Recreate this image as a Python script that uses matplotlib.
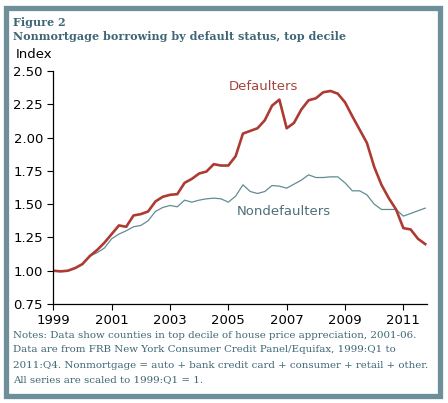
import numpy as np
import matplotlib
matplotlib.use('Agg')
import matplotlib.pyplot as plt
from matplotlib.patches import Rectangle

# quarterly, 1999:Q1 .. 2011:Q4, scaled to 1999:Q1 = 1
quarters = 1999 + np.arange(52) / 4.0
defaulters = [1.00, 0.995, 1.00, 1.02, 1.05, 1.11, 1.155, 1.21, 1.275, 1.34,
              1.33, 1.415, 1.425, 1.445, 1.52, 1.555, 1.57, 1.575, 1.66, 1.69,
              1.73, 1.745, 1.80, 1.79, 1.79, 1.86, 2.03, 2.05, 2.07, 2.13,
              2.24, 2.285, 2.07, 2.11, 2.21, 2.28, 2.295, 2.34, 2.35, 2.33,
              2.265, 2.16, 2.06, 1.96, 1.78, 1.645, 1.545, 1.46, 1.32, 1.31,
              1.24, 1.20]
nondefaulters = [1.00, 0.995, 1.00, 1.02, 1.05, 1.11, 1.135, 1.17, 1.24, 1.275,
                 1.30, 1.33, 1.34, 1.375, 1.445, 1.475, 1.49, 1.48, 1.53, 1.515,
                 1.53, 1.54, 1.545, 1.54, 1.515, 1.56, 1.645, 1.595, 1.58, 1.595,
                 1.64, 1.635, 1.62, 1.65, 1.68, 1.72, 1.70, 1.70, 1.705, 1.705,
                 1.66, 1.60, 1.60, 1.57, 1.50, 1.46, 1.46, 1.46, 1.41, 1.43,
                 1.45, 1.47]
xticks = [1999, 2001, 2003, 2005, 2007, 2009, 2011]
yticks = [0.75, 1.00, 1.25, 1.50, 1.75, 2.00, 2.25, 2.50]

title_col = '#3f6675'
red = '#ad3b33'
teal = '#628c92'

fig = plt.figure(figsize=(4.48, 4.03), dpi=100)
fig.patch.set_facecolor('white')

# outer frame
fig.patches.append(Rectangle((5.5 / 448, 7.5 / 403), 434 / 448, 388 / 403,
                             transform=fig.transFigure, fill=False,
                             edgecolor='#6e8e9a', linewidth=3.8))

fig.text(13 / 448, 1 - 22 / 403, 'Figure 2', family='DejaVu Serif',
         weight='bold', fontsize=8.0, color=title_col, va='center')
fig.text(13 / 448, 1 - 37 / 403,
         'Nonmortgage borrowing by default status, top decile',
         family='DejaVu Serif', weight='bold', fontsize=8.0,
         color=title_col, va='center')
fig.text(16 / 448, 1 - 54 / 403, 'Index', fontsize=9.5, va='center')

ax = fig.add_axes([53.3 / 448, 99 / 403, 373.4 / 448, 233 / 403])
ax.plot(quarters, nondefaulters, color=teal, lw=0.9)
ax.plot(quarters, defaulters, color=red, lw=1.9)

ax.set_xlim(1999, 2011.8)
ax.set_ylim(0.75, 2.5)
ax.set_xticks(xticks)
ax.set_yticks(yticks)
ax.set_yticklabels(['%.2f' % v for v in yticks])
ax.tick_params(axis='both', labelsize=9.5, length=4, width=0.8, direction='out')
ax.tick_params(axis='x', pad=3)
for s in ['top', 'right']:
    ax.spines[s].set_visible(False)
for s in ['left', 'bottom']:
    ax.spines[s].set_linewidth(0.9)

ax.text(2006.22, 2.38, 'Defaulters', color='#a5443d', fontsize=9.5,
        ha='center', va='center')
ax.text(2006.89, 1.445, 'Nondefaulters', color='#4d6e7b', fontsize=9.5,
        ha='center', va='center')

notes = ['Notes: Data show counties in top decile of house price appreciation, 2001-06.',
         'Data are from FRB New York Consumer Credit Panel/Equifax, 1999:Q1 to',
         '2011:Q4. Nonmortgage = auto + bank credit card + consumer + retail + other.',
         'All series are scaled to 1999:Q1 = 1.']
for k, line in enumerate(notes):
    fig.text(13 / 448, 1 - (335 + 15 * k) / 403, line, family='DejaVu Serif',
             fontsize=7.4, color=title_col, va='center')

fig.savefig('out.png', dpi=100)
